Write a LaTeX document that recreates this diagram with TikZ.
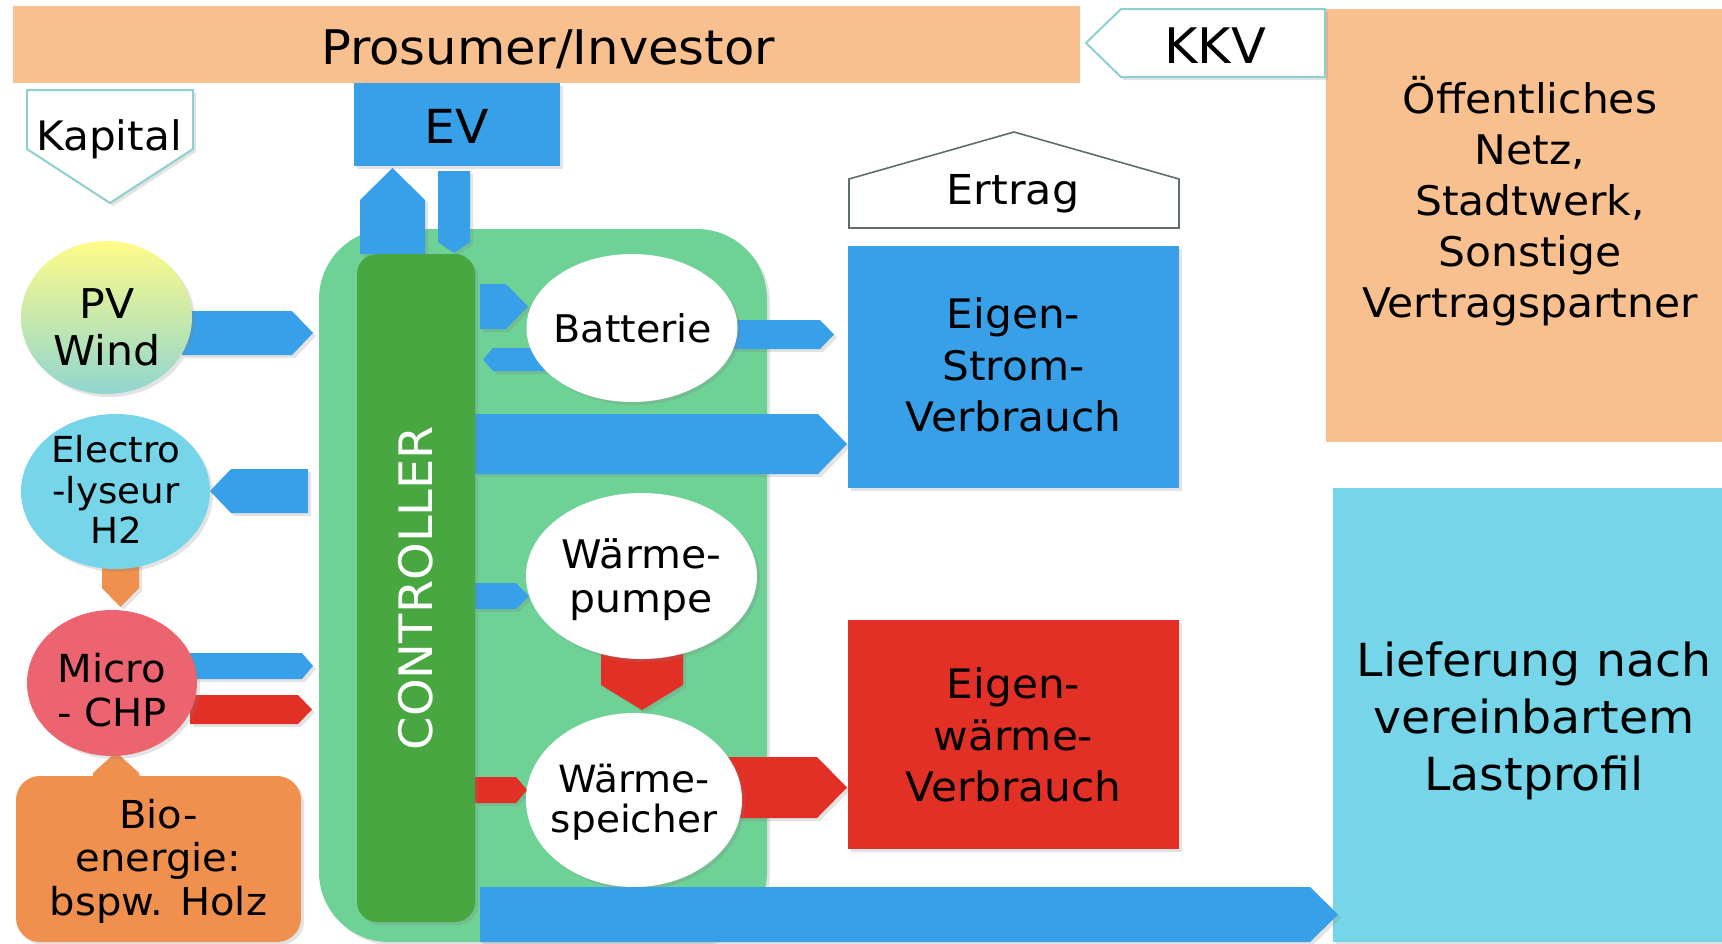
\documentclass[tikz,border=0pt]{standalone}
\usepackage{fontspec}
\setmainfont{DejaVu Sans}[FakeStretch=1.04]
\usetikzlibrary{shapes.geometric,shadows}
\definecolor{peach}{HTML}{F9C08F}
\definecolor{eblue}{HTML}{38A0E8}
\definecolor{lgreen}{HTML}{6ED296}
\definecolor{dgreen}{HTML}{48A740}
\definecolor{hred}{HTML}{E33027}
\definecolor{cyanbox}{HTML}{76D5E8}
\definecolor{chp}{HTML}{EB6470}
\definecolor{bioor}{HTML}{F0904E}
\definecolor{kteal}{HTML}{8ECFD0}
\definecolor{egray}{HTML}{5E6D6D}
\definecolor{pvtop}{HTML}{FFFB88}
\definecolor{pvbot}{HTML}{90D6D0}
\pgfdeclarelayer{bg}
\pgfdeclarelayer{arr}
\pgfsetlayers{bg,arr,main}
% fat block arrows (px units)
\newcommand{\fatR}[6]{\fill[#1] (#2,#4) -- ({#3-#6},#4) -- (#3,{(#4+#5)/2}) -- ({#3-#6},#5) -- (#2,#5) -- cycle;}
\newcommand{\fatL}[6]{\fill[#1] (#3,#4) -- ({#2+#6},#4) -- (#2,{(#4+#5)/2}) -- ({#2+#6},#5) -- (#3,#5) -- cycle;}
\newcommand{\fatD}[6]{\fill[#1] (#2,#4) -- (#3,#4) -- (#3,{#5-#6}) -- ({(#2+#3)/2},#5) -- (#2,{#5-#6}) -- cycle;}
\newcommand{\fatU}[6]{\fill[#1] (#2,#4) -- (#3,#4) -- (#3,{#5+#6}) -- ({(#2+#3)/2},#5) -- (#2,{#5+#6}) -- cycle;}
\begin{document}
\begin{tikzpicture}[x=0.5pt,y=-0.5pt,
  sh/.style={drop shadow={opacity=0.22,shadow xshift=1.5pt,shadow yshift=-1.5pt}},
  sz/.style 2 args={minimum width=#1*0.5pt, minimum height=#2*0.5pt, inner sep=0pt, outer sep=0pt},
  rect/.style={rectangle, draw=none},
  ell/.style={ellipse, draw=none},
  txt/.style={inner sep=0pt, outer sep=0pt, align=center, text=black},
  ab/.style={eblue, sh},
  ar/.style={hred, sh},
  ao/.style={bioor, sh}]
\useasboundingbox (0,0) rectangle (1722,943);

% ---- background region
\begin{pgfonlayer}{bg}
\node[rect, fill=lgreen, rounded corners=35pt, sz={448}{713}, sh] (hub) at (543,585.5) {};
\end{pgfonlayer}

% ---- boxes
\node[rect, fill=peach, sz={1067}{77}] (prosumer) at (546.5,44.5) {};
\node[rect, fill=peach, sz={396}{433}] (oeff) at (1524,225.5) {};
\node[rect, fill=cyanbox, sz={389}{454}, sh] (lief) at (1527.5,715) {};
\node[rect, fill=eblue, sz={206}{83}, sh] (ev) at (457,124.5) {};
\node[rect, fill=eblue, sz={331}{242}, sh] (eigstrom) at (1013.5,367) {};
\node[rect, fill=hred, sz={331}{229}, sh] (eigwaerme) at (1013.5,734.5) {};
\node[rect, fill=dgreen, rounded corners=10pt, sz={118}{668}, sh] (ctrl) at (416,588) {};
\node[rect, fill=bioor, rounded corners=12pt, sz={285}{166}, sh] (bio) at (158.5,859) {};

% ---- ellipses
\node[ell, top color=pvtop, bottom color=pvbot, sz={171}{153}, sh] (pv) at (106.5,317.5) {};
\node[ell, fill=cyanbox, sz={189}{155}, sh] (elek) at (115.5,491.5) {};
\node[ell, fill=chp, sz={170}{146}, sh] (micro) at (112,683) {};
\node[ell, fill=white, sz={211}{148}, sh] (batt) at (632,328) {};
\node[ell, fill=white, sz={231}{166}, sh] (wp) at (641.5,576) {};
\node[ell, fill=white, sz={216}{174}, sh] (ws) at (634,800) {};

% ---- outlined pentagons
\coordinate (kapA) at (27,90);
\filldraw[fill=white, draw=kteal, line width=1pt, sh] (kapA) -- (193,90) -- (193,149) -- (110,203) -- (27,149) -- cycle;
\coordinate (kkvA) at (1325,9);
\filldraw[fill=white, draw=kteal, line width=1pt, sh] (kkvA) -- (1325,77) -- (1121,77) -- (1086,43) -- (1121,9) -- cycle;
\coordinate (ertA) at (849,228);
\filldraw[fill=white, draw=egray, line width=0.8pt] (ertA) -- (849,179) -- (1014,132) -- (1179,179) -- (1179,228) -- cycle;

% ---- arrows
\begin{pgfonlayer}{arr}
\fatR{ab}{182}{313}{311}{355}{21}   % PV -> ctrl
\fatL{ab}{210}{308}{469}{513}{21}   % ctrl -> Elektrolyseur
\fatR{ab}{190}{313}{653}{679}{11}   % Micro -> ctrl (Strom)
\fatR{ar}{190}{312}{695}{724}{14}   % Micro -> ctrl (Waerme)
\fatD{ao}{102}{139}{560}{607}{19}   % Elektrolyseur -> Micro
\fatU{ao}{93}{139}{790}{752}{21}    % Bio -> Micro
\fatU{ab}{360}{425}{254}{168}{32}   % ctrl -> EV
\fatD{ab}{438}{470}{171}{253}{11}   % EV -> ctrl
\fatR{ab}{480}{528}{284}{329}{22}   % ctrl -> Batterie
\fatL{ab}{483}{545}{348}{371}{10}   % Batterie -> ctrl
\fatR{ab}{715}{834}{320}{349}{14}   % Batterie -> Eigenstrom
\fatR{ab}{475}{847}{414}{474}{29}   % ctrl -> Eigenstrom
\fatR{ab}{475}{529}{583}{609}{13}   % ctrl -> Waermepumpe
\fatD{ar}{601}{683}{650}{710}{25}   % Waermepumpe -> Waermespeicher
\fatR{ar}{475}{527}{777}{803}{11}   % ctrl -> Waermespeicher
\fatR{ar}{720}{847}{757}{818}{30}   % Waermespeicher -> Eigenwaerme
\end{pgfonlayer}
\fatR{ab}{480}{1338}{887}{942}{28}  % ctrl -> Lieferung

% ---- texts
\node[txt, anchor=base, font=\fontsize{23.85pt}{28pt}\selectfont] (prosumer-t) at (548,64) {Prosumer/Investor};
\node[txt, anchor=base, font=\fontsize{24.5pt}{28pt}\selectfont] (kkv-t) at (1215,63) {KKV};
\node[txt, anchor=base, font=\fontsize{23.45pt}{28pt}\selectfont] (ev-t) at (457,143) {EV};
\node[txt, anchor=base, font=\fontsize{20.3pt}{25pt}\selectfont] (kap-t) at (109,150) {Kapital};
\node[txt, anchor=base, font=\fontsize{20.6pt}{25pt}\selectfont] (ert-t) at (1013,204) {Ertrag};
\node[txt, anchor=base, font=\fontsize{19.05pt}{24pt}\selectfont] (batt-t) at (633,342) {Batterie};
\node[txt, font=\fontsize{20.5pt}{23.5pt}\selectfont] (pv-t) at (107,327.3) {PV\\Wind};
\node[txt, font=\fontsize{17.9pt}{20.25pt}\selectfont] (elek-t) at (116,489.8) {Electro\\-lyseur\\H2};
\node[txt, font=\fontsize{19.3pt}{22pt}\selectfont] (micro-t) at (112,690.5) {Micro\\- CHP};
\node[txt, font=\fontsize{19.25pt}{21.75pt}\selectfont] (bio-t) at (158.5,861.3) {Bio-\\energie:\\bspw. Holz};
\node[txt, font=\fontsize{19.7pt}{22pt}\selectfont] (wp-t) at (641.5,579.8) {Wärme-\\pumpe};
\node[txt, font=\fontsize{18.75pt}{19.75pt}\selectfont] (ws-t) at (634,802.3) {Wärme-\\speicher};
\node[txt, font=\fontsize{20.3pt}{25.75pt}\selectfont] (eigstrom-t) at (1013.5,365.3) {Eigen-\\Strom-\\Verbrauch};
\node[txt, font=\fontsize{20.3pt}{25.75pt}\selectfont] (eigwaerme-t) at (1013.5,735.3) {Eigen-\\wärme-\\Verbrauch};
\node[txt, font=\fontsize{20.4pt}{25.5pt}\selectfont] (oeff-t) at (1530,201) {Öffentliches\\Netz,\\Stadtwerk,\\Sonstige\\Vertragspartner};
\node[txt, font=\fontsize{22.8pt}{28.5pt}\selectfont] (lief-t) at (1534,720.5) {Lieferung nach\\vereinbartem\\Lastprofil};
\node[txt, text=white, rotate=90, font=\fontsize{23.05pt}{28pt}\selectfont] (ctrl-t) at (416,588) {CONTROLLER};
\end{tikzpicture}
\end{document}
